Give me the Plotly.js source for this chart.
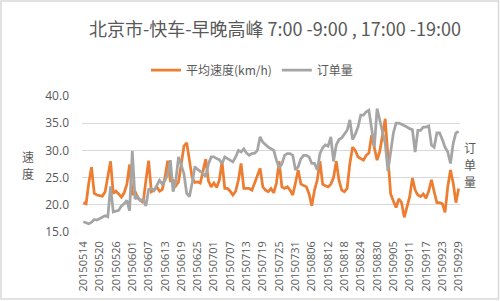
<!DOCTYPE html>
<html>
<head>
<meta charset="utf-8">
<script src="https://cdn.plot.ly/plotly-3.0.1.min.js"></script>
<style>html,body{margin:0;padding:0;background:#fff;}#chart{width:500px;height:301px;}</style>
</head>
<body>
<div id="chart"></div>
<script>
// Chart data
const startDate = "2015-05-14";
const dayCount = 139;
const tickLabels = ["20150514","20150520","20150526","20150601","20150607","20150613","20150619","20150625","20150701","20150707","20150713","20150719","20150725","20150731","20150806","20150812","20150818","20150824","20150830","20150905","20150911","20150917","20150923","20150929"];
const speed = [
20.4,20.2,24.0,26.9,22.1,21.8,21.7,21.6,22.4,25.0,
28.0,22.1,22.5,22.0,21.4,22.2,23.8,27.4,21.8,22.5,
21.2,20.8,20.4,24.5,28.1,22.4,22.7,23.3,22.5,22.8,
25.0,28.1,24.4,24.5,23.5,24.2,28.0,30.8,31.4,28.5,
25.0,24.1,24.2,24.0,26.0,28.4,24.4,23.3,24.0,23.2,
24.5,27.9,23.0,23.0,22.5,21.8,22.5,24.5,27.6,23.0,
23.0,23.0,22.7,24.0,25.5,26.7,23.3,22.7,22.4,23.0,
22.2,24.0,28.0,23.3,23.0,23.3,22.7,21.8,24.0,26.4,
23.8,23.5,23.3,22.0,19.8,22.7,24.5,28.0,23.8,23.5,
23.3,23.8,25.0,28.0,24.5,22.7,22.4,23.0,27.6,30.6,
30.0,28.8,28.5,28.2,29.1,29.5,32.8,30.6,28.2,29.8,
33.0,35.8,28.8,22.0,20.7,19.5,21.1,20.4,17.7,19.5,
21.5,24.9,22.7,21.8,21.5,22.0,21.2,22.5,24.6,22.4,
20.4,20.4,20.2,18.6,23.3,26.4,24.0,20.4,23.0
];
const orders = [
16.9,16.7,16.5,16.8,17.3,17.2,17.5,17.7,18.0,17.8,
23.4,18.7,18.9,19.0,19.8,20.2,20.8,18.9,29.9,21.1,
21.5,20.8,21.0,19.8,22.8,23.0,22.6,23.5,24.5,23.8,
24.5,25.5,28.2,22.4,24.5,28.8,27.0,25.7,22.1,21.5,
24.0,27.0,26.5,26.2,25.8,25.2,27.5,28.8,28.8,28.5,
28.3,27.6,28.8,28.5,28.2,27.9,28.8,30.0,29.7,30.3,
29.5,29.1,29.4,29.5,30.0,32.5,31.5,31.0,30.6,30.3,
30.0,28.2,26.7,27.5,29.1,29.4,29.4,29.1,26.4,27.0,
28.5,29.1,29.1,28.8,27.6,27.6,26.4,29.4,30.5,31.0,
30.8,32.5,28.0,31.0,32.0,32.3,33.0,33.7,35.6,32.0,
33.0,34.3,36.5,36.5,37.1,37.4,34.0,30.6,37.7,35.6,
33.0,31.3,26.2,29.4,33.2,35.0,35.0,34.8,34.6,34.3,
34.0,33.8,29.7,33.7,33.7,34.3,34.3,34.5,31.0,30.6,
33.2,33.2,32.0,30.6,29.7,27.6,31.3,33.2,33.5
];
const seriesNames = ["平均速度(km/h)", "订单量"];
const titleText = "北京市-快车-早晚高峰 7:00 -9:00 , 17:00 -19:00";
const leftAxisChars = ["速", "度"];
const rightAxisChars = ["订", "单", "量"];

// build the daily category labels
const dates = [];
{
  const d0 = new Date(startDate + "T00:00:00Z");
  for (let k = 0; k < dayCount; k++) {
    const d = new Date(d0.getTime() + k * 86400000);
    const s = d.getUTCFullYear() + String(d.getUTCMonth() + 1).padStart(2, "0") + String(d.getUTCDate()).padStart(2, "0");
    dates.push(s);
  }
}

const txt = "#595959";
const fontFam = "'Noto Sans CJK SC', 'Noto Sans', sans-serif";

const traces = [
  {x: dates, y: speed, name: seriesNames[0], type: "scatter", mode: "lines",
   line: {color: "#ED7D31", width: 2.75}},
  {x: dates, y: orders, name: seriesNames[1], type: "scatter", mode: "lines",
   line: {color: "#A5A5A5", width: 2.75}}
];

// plot area in px: left 82, right 460, top 96, bottom 232
const L = 82, R = 460, T = 96, B = 232;
const px2x = p => (p - L) / (R - L);
const px2y = p => (B - p) / (B - T);

const annotations = [];
leftAxisChars.forEach((c, k) => annotations.push({
  text: c, xref: "paper", yref: "paper", x: px2x(28), y: px2y(156 + 17 * k),
  xanchor: "center", yanchor: "middle", showarrow: false,
  font: {size: 12, color: txt, family: fontFam}}));
rightAxisChars.forEach((c, k) => annotations.push({
  text: c, xref: "paper", yref: "paper", x: px2x(470), y: px2y(147 + 17 * k),
  xanchor: "center", yanchor: "middle", showarrow: false,
  font: {size: 12, color: txt, family: fontFam}}));

const layout = {
  width: 500, height: 301,
  margin: {l: L, r: 500 - R, t: T, b: 301 - B, pad: 0},
  paper_bgcolor: "#ffffff", plot_bgcolor: "#ffffff",
  font: {family: fontFam, color: txt, size: 12},
  title: {text: titleText, font: {family: fontFam, size: 18, color: txt},
          xref: "paper", x: px2x(275), xanchor: "center",
          yref: "container", y: 1 - 30 / 301, yanchor: "middle"},
  showlegend: true,
  legend: {orientation: "h", x: px2x(146), xanchor: "left", y: px2y(70), yanchor: "middle",
           font: {size: 12, color: txt, family: fontFam}, itemwidth: 30, tracegroupgap: 0,
           bgcolor: "rgba(0,0,0,0)"},
  xaxis: {type: "category", range: [-0.5, dayCount - 0.5], tickmode: "array",
          tickvals: tickLabels, ticktext: tickLabels, tickangle: -90,
          showgrid: false, showline: false, zeroline: false, ticks: "",
          ticklabelstandoff: 6,
          tickfont: {size: 11, color: txt, family: "'Open Sans', sans-serif"}},
  yaxis: {range: [15, 40], tickvals: [15, 20, 25, 30, 35, 40],
          ticktext: ["15.0", "20.0", "25.0", "30.0", "35.0", "40.0"],
          showgrid: true, gridcolor: "#D9D9D9", gridwidth: 1,
          zeroline: false, showline: false, ticks: "", ticklabelstandoff: 12,
          tickfont: {size: 12, color: txt, family: "'Open Sans', sans-serif"}},
  annotations: annotations,
  shapes: [
    {type: "rect", xref: "paper", yref: "paper", layer: "below",
     x0: px2x(1), x1: px2x(498.5), y0: px2y(299), y1: px2y(1),
     line: {color: "#D9D9D9", width: 1.5}, fillcolor: "rgba(0,0,0,0)"}
  ]
};

Plotly.newPlot("chart", traces, layout, {displayModeBar: false, staticPlot: true});
</script>
</body>
</html>
